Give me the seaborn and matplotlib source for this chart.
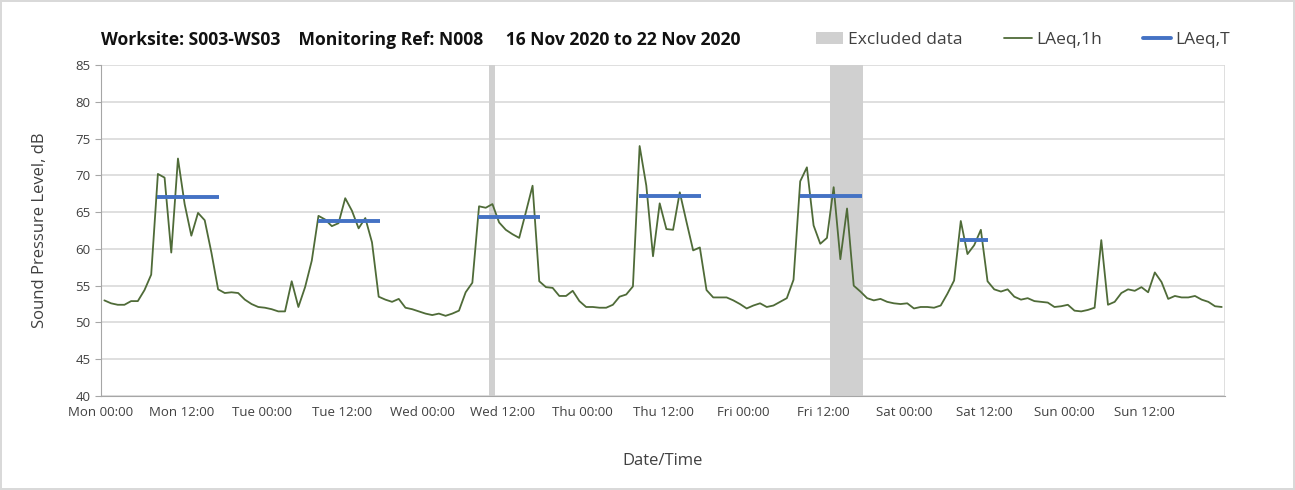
import numpy as np
import pandas as pd
import seaborn as sns
import matplotlib.pyplot as plt
import matplotlib.dates as mdates
from matplotlib.patches import Patch
from matplotlib.lines import Line2D

# hourly LAeq,1h values, Mon 16 Nov 00:00 -> Sun 22 Nov 23:00
mon = [53.0, 52.6, 52.4, 52.4, 52.9, 52.9, 54.4, 56.5, 70.2, 69.7, 59.5, 72.3,
       66.1, 61.8, 64.9, 63.9, 59.5, 54.5, 54.0, 54.1, 54.0, 53.1, 52.5, 52.1]
tue = [52.0, 51.8, 51.5, 51.5, 55.6, 52.1, 54.8, 58.4, 64.5, 64.0, 63.1, 63.5,
       66.9, 65.2, 62.8, 64.2, 60.9, 53.5, 53.1, 52.8, 53.2, 52.0, 51.8, 51.5]
wed = [51.2, 51.0, 51.2, 50.9, 51.2, 51.6, 54.1, 55.4, 65.8, 65.6, 66.1, 63.6,
       62.6, 62.0, 61.5, 65.0, 68.6, 55.6, 54.8, 54.7, 53.6, 53.6, 54.3, 52.9]
thu = [52.1, 52.1, 52.0, 52.0, 52.4, 53.5, 53.8, 54.9, 74.0, 68.6, 59.0, 66.2,
       62.7, 62.6, 67.7, 63.7, 59.8, 60.2, 54.4, 53.4, 53.4, 53.4, 53.0, 52.5]
fri = [51.9, 52.3, 52.6, 52.1, 52.3, 52.8, 53.3, 55.8, 69.2, 71.1, 63.2, 60.7,
       61.5, 68.4, 58.6, 65.5, 55.0, 54.2, 53.3, 53.0, 53.2, 52.8, 52.6, 52.5]
sat = [52.6, 51.9, 52.1, 52.1, 52.0, 52.3, 53.9, 55.7, 63.8, 59.3, 60.5, 62.6,
       55.6, 54.5, 54.2, 54.5, 53.5, 53.1, 53.3, 52.9, 52.8, 52.7, 52.1, 52.2]
sun = [52.4, 51.6, 51.5, 51.7, 52.0, 61.2, 52.4, 52.8, 54.0, 54.5, 54.3, 54.8,
       54.1, 56.8, 55.5, 53.2, 53.6, 53.4, 53.4, 53.6, 53.1, 52.8, 52.2, 52.1]

# LAeq,T periods
laeqT_start = ['2020-11-16 08:25', '2020-11-17 08:25', '2020-11-18 08:25',
               '2020-11-19 08:25', '2020-11-20 08:25', '2020-11-21 08:25']
laeqT_end = ['2020-11-16 17:40', '2020-11-17 17:40', '2020-11-18 17:40',
             '2020-11-19 17:40', '2020-11-20 17:40', '2020-11-21 12:35']
laeqT_val = [67.0, 63.8, 64.4, 67.2, 67.2, 61.2]

# excluded data periods
excl_start = ['2020-11-18 10:00', '2020-11-20 12:55']
excl_end = ['2020-11-18 10:55', '2020-11-20 17:55']

green = '#4F6B38'
blue = '#4472C4'
grey = '#D0D0D0'

levels = mon + tue + wed + thu + fri + sat + sun
times = pd.date_range('2020-11-16 00:30', periods=len(levels), freq='h')
df = pd.DataFrame({'time': times, 'LAeq1h': levels})

sns.set_style('white')
plt.rcParams['font.family'] = ['Open Sans', 'DejaVu Sans']

fig = plt.figure(figsize=(12.95, 4.9), dpi=100, edgecolor='#D9D9D9', linewidth=1.5)
ax = fig.add_axes([0.078, 0.192, 0.868, 0.675])

for s, e in zip(excl_start, excl_end):
    ax.axvspan(pd.Timestamp(s), pd.Timestamp(e), color=grey, lw=0, zorder=1)

sns.lineplot(data=df, x='time', y='LAeq1h', color=green, lw=1.3, ax=ax, zorder=3)
ax.hlines(laeqT_val, pd.to_datetime(laeqT_start), pd.to_datetime(laeqT_end),
          color=blue, lw=2.8, zorder=4)

ax.set_xlim(pd.Timestamp('2020-11-16 00:00'), pd.Timestamp('2020-11-23 00:00'))
ax.set_ylim(40, 85)
ax.set_yticks(range(40, 90, 5))
ax.set_xticks(pd.date_range('2020-11-16 00:00', '2020-11-22 12:00', freq='12h'))
ax.xaxis.set_major_formatter(mdates.DateFormatter('%a %H:%M'))
ax.xaxis.set_minor_locator(mdates.DayLocator())

ax.grid(axis='y', color='#D9D9D9', lw=1.2, zorder=0)
ax.grid(axis='x', which='minor', color='#D9D9D9', lw=1.2, zorder=0)
ax.set_axisbelow(True)
for side in ['top', 'right']:
    ax.spines[side].set_visible(False)
for side in ['left', 'bottom']:
    ax.spines[side].set_color('#A6A6A6')
ax.tick_params(axis='both', which='major', labelsize=9.5, colors='#404040',
               length=4, color='#A6A6A6', direction='out', left=True, bottom=False)
ax.tick_params(axis='x', which='minor', length=0)

ax.set_xlabel('Date/Time', fontsize=12, color='#404040', labelpad=24)
ax.set_ylabel('Sound Pressure Level, dB', fontsize=12, color='#404040', labelpad=20)

fig.text(0.078, 0.918, 'Worksite: S003-WS03    Monitoring Ref: N008     16 Nov 2020 to 22 Nov 2020',
         fontsize=12.6, fontweight='bold', va='center', color='#111111')

handles = [Patch(facecolor=grey, edgecolor='none'),
           Line2D([], [], color=green, lw=1.3),
           Line2D([], [], color=blue, lw=2.8)]
fig.legend(handles, ['Excluded data', 'LAeq,1h', 'LAeq,T'], ncol=3, frameon=False,
           loc='center right', bbox_to_anchor=(0.962, 0.918), fontsize=12.5,
           handlelength=1.6, columnspacing=2.4, handletextpad=0.25,
           labelcolor='#404040')

plt.savefig('out.png', dpi=100)
